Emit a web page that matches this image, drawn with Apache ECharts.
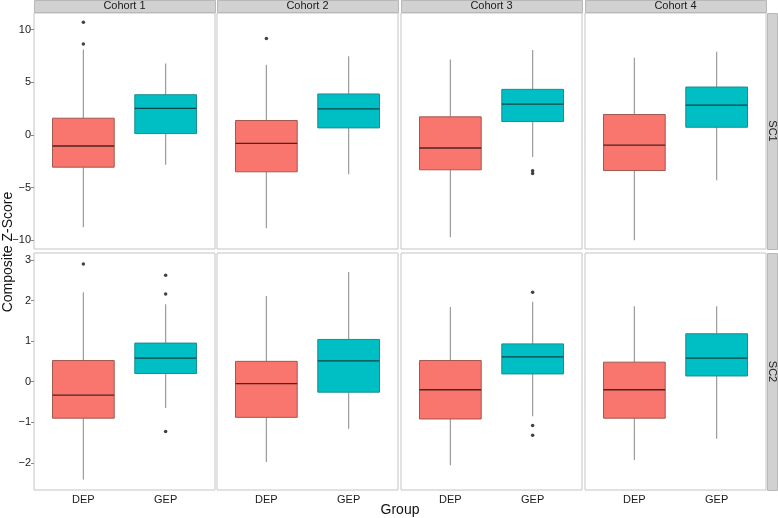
<!DOCTYPE html>
<html>
<head>
<meta charset="utf-8">
<script src="https://cdn.jsdelivr.net/npm/echarts@6/dist/echarts.min.js"></script>
<style>html,body{margin:0;padding:0;background:#fff;}#c{width:778px;height:518px;}</style>
</head>
<body>
<div id="c"></div>
<script>
const cohorts = ['Cohort 1', 'Cohort 2', 'Cohort 3', 'Cohort 4'];
const scores = ['SC1', 'SC2'];
const groups = ['DEP', 'GEP'];
const sc1Ticks = [-10, -5, 0, 5, 10];
const sc2Ticks = [-2, -1, 0, 1, 2, 3];

// [low whisker, Q1, median, Q3, high whisker] per cohort
const sc1DEP = [
  [-8.76, -3.06, -1.05, 1.59, 8.12],
  [-8.85, -3.50, -0.80, 1.37, 6.66],
  [-9.71, -3.31, -1.24, 1.72, 7.17],
  [-10.0, -3.38, -0.96, 1.94, 7.32]
];
const sc1GEP = [
  [-2.83, 0.13, 2.52, 3.82, 6.78],
  [-3.73, 0.67, 2.48, 3.89, 7.48],
  [-2.10, 1.27, 2.93, 4.33, 8.06],
  [-4.30, 0.73, 2.83, 4.55, 7.90]
];
const sc2DEP = [
  [-2.41, -0.90, -0.33, 0.52, 2.20],
  [-1.98, -0.88, -0.05, 0.50, 2.11],
  [-2.06, -0.92, -0.20, 0.52, 1.84],
  [-1.93, -0.90, -0.20, 0.48, 1.86]
];
const sc2GEP = [
  [-0.65, 0.20, 0.58, 0.95, 1.91],
  [-1.16, -0.26, 0.51, 1.04, 2.70],
  [-0.85, 0.19, 0.61, 0.93, 1.97],
  [-1.41, 0.14, 0.58, 1.18, 1.86]
];
// outliers per cohort
const sc1DEPOut = [[10.7, 8.63], [9.17], [], []];
const sc1GEPOut = [[], [], [-3.41, -3.66], []];
const sc2DEPOut = [[2.90], [], [], []];
const sc2GEPOut = [[2.62, 2.16, -1.23], [], [2.20, -1.08, -1.32], []];

const boxData = [[sc1DEP, sc1GEP], [sc2DEP, sc2GEP]];
const outData = [[sc1DEPOut, sc1GEPOut], [sc2DEPOut, sc2GEPOut]];
const ticks = [sc1Ticks, sc2Ticks];

// layout
const lefts = [34, 217, 401, 585];
const panelW = 181;
const tops = [13, 253];
const heights = [236, 237];
const yRange = [[-10.83, 11.58], [-2.67, 3.17]];

const fills = ['#F8766D', '#00BFC4'];
const borders = ['#A2574F', '#1C8C8F'];
const medians = ['#4A2522', '#0E4546'];
const FONT = 'Liberation Sans, Arial, sans-serif';

const grid = [], xAxis = [], yAxis = [], series = [], graphic = [];

for (let r = 0; r < 2; r++) {
  for (let c = 0; c < 4; c++) {
    const idx = r * 4 + c;
    grid.push({left: lefts[c], top: tops[r], width: panelW, height: heights[r],
      show: true, borderColor: '#C4C4C4', borderWidth: 1, backgroundColor: '#fff'});
    xAxis.push({type: 'value', gridIndex: idx, min: 0.4, max: 2.6,
      splitLine: {show: false}, axisLine: {show: false},
      axisTick: {show: r === 1, length: 3, lineStyle: {color: '#8a8a8a'}, customValues: [1, 2]},
      axisLabel: {show: r === 1, customValues: [1, 2], formatter: v => groups[Math.round(v) - 1] || '',
        color: '#1a1a1a', fontSize: 11, fontFamily: FONT, margin: 4}});
    yAxis.push({type: 'value', gridIndex: idx, min: yRange[r][0], max: yRange[r][1],
      splitLine: {show: false}, axisLine: {show: false},
      axisTick: {show: c === 0, length: 3, lineStyle: {color: '#8a8a8a'}, customValues: ticks[r]},
      axisLabel: {show: c === 0, customValues: ticks[r], formatter: v => String(v).replace('-', '\u2212'),
        color: '#1a1a1a', fontSize: 11, fontFamily: FONT, margin: 3}});
    for (let g = 0; g < 2; g++) {
      const b = boxData[r][g][c];
      series.push({
        type: 'custom', xAxisIndex: idx, yAxisIndex: idx,
        data: [[g + 1].concat(b)],
        encode: {x: 0, y: [1, 2, 3, 4, 5]},
        renderItem: function (params, api) {
          const x = api.value(0);
          const lo = api.coord([x, api.value(1)]);
          const q1 = api.coord([x, api.value(2)]);
          const md = api.coord([x, api.value(3)]);
          const q3 = api.coord([x, api.value(4)]);
          const hi = api.coord([x, api.value(5)]);
          const left = api.coord([x - 0.375, 0])[0];
          const right = api.coord([x + 0.375, 0])[0];
          const cx = lo[0];
          const wl = {stroke: '#9b9b9b', lineWidth: 1.2};
          return {type: 'group', children: [
            {type: 'line', shape: {x1: cx, y1: hi[1], x2: cx, y2: q3[1]}, style: wl},
            {type: 'line', shape: {x1: cx, y1: q1[1], x2: cx, y2: lo[1]}, style: wl},
            {type: 'rect', shape: {x: left, y: q3[1], width: right - left, height: q1[1] - q3[1]},
              style: {fill: fills[g], stroke: borders[g], lineWidth: 1}},
            {type: 'line', shape: {x1: left, y1: md[1], x2: right, y2: md[1]},
              style: {stroke: medians[g], lineWidth: 1.3}}
          ]};
        },
        silent: true, z: 2
      });
      const outs = outData[r][g][c];
      if (outs.length) {
        series.push({type: 'scatter', xAxisIndex: idx, yAxisIndex: idx,
          data: outs.map(v => [g + 1, v]), symbolSize: 3.5,
          itemStyle: {color: '#111'}, silent: true, z: 3});
      }
    }
  }
}

// strips
for (let c = 0; c < 4; c++) {
  graphic.push({type: 'rect', left: lefts[c], top: 0, shape: {width: panelW, height: 12},
    style: {fill: '#D1D1D1', stroke: '#B8B8B8', lineWidth: 1}});
  graphic.push({type: 'text', x: lefts[c] + panelW / 2, y: 6,
    style: {text: cohorts[c], fill: '#1a1a1a', font: '11px ' + FONT, align: 'center', verticalAlign: 'middle'}});
}
for (let r = 0; r < 2; r++) {
  graphic.push({type: 'rect', left: 767, top: tops[r], shape: {width: 10, height: heights[r]},
    style: {fill: '#D1D1D1', stroke: '#B8B8B8', lineWidth: 1}});
  graphic.push({type: 'text', x: 772, y: tops[r] + heights[r] / 2, rotation: -Math.PI / 2,
    style: {text: scores[r], fill: '#1a1a1a', font: '11px ' + FONT, align: 'center', verticalAlign: 'middle'}});
}
graphic.push({type: 'text', x: 400, y: 510,
  style: {text: 'Group', fill: '#111', font: '14px ' + FONT, align: 'center', verticalAlign: 'middle'}});
graphic.push({type: 'text', x: 8, y: 252, rotation: Math.PI / 2,
  style: {text: 'Composite Z-Score', fill: '#111', font: '14px ' + FONT, align: 'center', verticalAlign: 'middle'}});

const chart = echarts.init(document.getElementById('c'), null, {renderer: 'canvas'});
chart.setOption({animation: false, backgroundColor: '#fff', grid, xAxis, yAxis, series, graphic});
</script>
</body>
</html>
